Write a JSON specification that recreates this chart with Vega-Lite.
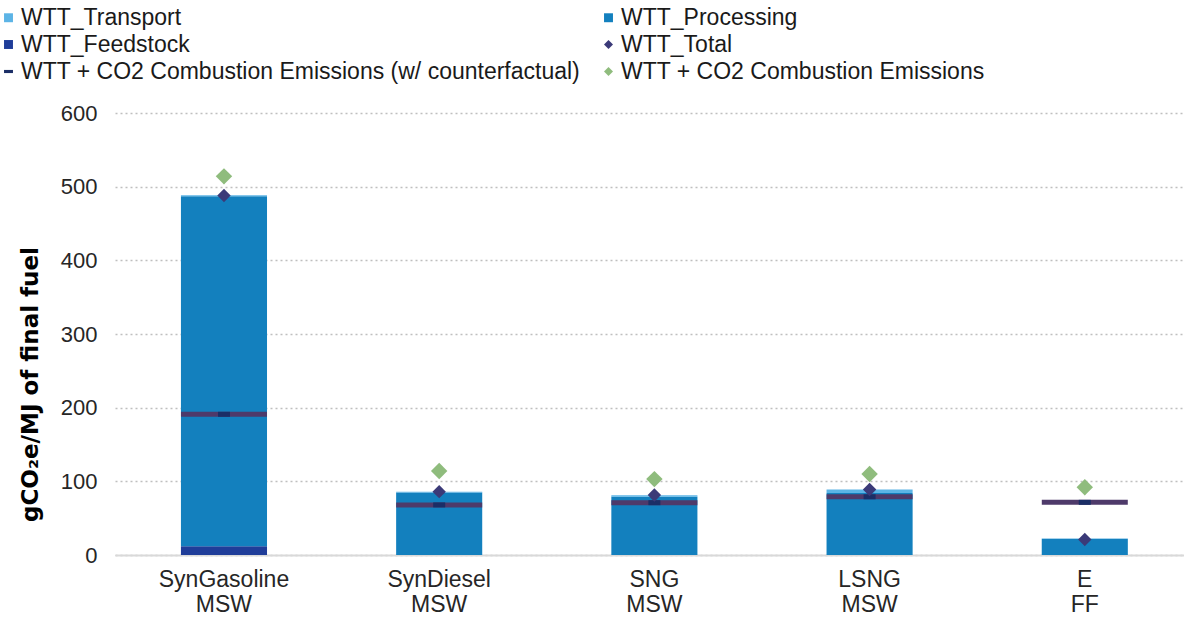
{
  "$schema": "https://vega.github.io/schema/vega-lite/v6.json",
  "width": 1069,
  "height": 442,
  "autosize": "none",
  "padding": {"left": 115, "top": 113, "right": 0, "bottom": 66},
  "background": "white",
  "config": {
    "view": {"stroke": null},
    "font": "Liberation Sans",
    "axis": {"labelFont": "Liberation Sans", "titleFont": "Liberation Sans"},
    "legend": {"labelFont": "Liberation Sans"}
  },
  "data": {
    "values": [
      {"cat": "SynGasoline|MSW", "series": "WTT_Feedstock", "value": 12, "kind": "bar", "ord": 1},
      {"cat": "SynGasoline|MSW", "series": "WTT_Processing", "value": 475, "kind": "bar", "ord": 2},
      {"cat": "SynGasoline|MSW", "series": "WTT_Transport", "value": 1.5, "kind": "bar", "ord": 3},
      {"cat": "SynGasoline|MSW", "series": "WTT_Total", "value": 488, "kind": "pt", "ord": 0},
      {"cat": "SynGasoline|MSW", "series": "WTT + CO2 Combustion Emissions", "value": 514, "kind": "pt", "ord": 0},
      {"cat": "SynGasoline|MSW", "series": "WTT + CO2 Combustion Emissions (w/ counterfactual)", "value": 191, "kind": "cf", "ord": 0},
      {"cat": "SynDiesel|MSW", "series": "WTT_Feedstock", "value": 0, "kind": "bar", "ord": 1},
      {"cat": "SynDiesel|MSW", "series": "WTT_Processing", "value": 85, "kind": "bar", "ord": 2},
      {"cat": "SynDiesel|MSW", "series": "WTT_Transport", "value": 1, "kind": "bar", "ord": 3},
      {"cat": "SynDiesel|MSW", "series": "WTT_Total", "value": 86, "kind": "pt", "ord": 0},
      {"cat": "SynDiesel|MSW", "series": "WTT + CO2 Combustion Emissions", "value": 114, "kind": "pt", "ord": 0},
      {"cat": "SynDiesel|MSW", "series": "WTT + CO2 Combustion Emissions (w/ counterfactual)", "value": 68, "kind": "cf", "ord": 0},
      {"cat": "SNG|MSW", "series": "WTT_Feedstock", "value": 0, "kind": "bar", "ord": 1},
      {"cat": "SNG|MSW", "series": "WTT_Processing", "value": 79, "kind": "bar", "ord": 2},
      {"cat": "SNG|MSW", "series": "WTT_Transport", "value": 2, "kind": "bar", "ord": 3},
      {"cat": "SNG|MSW", "series": "WTT_Total", "value": 81.5, "kind": "pt", "ord": 0},
      {"cat": "SNG|MSW", "series": "WTT + CO2 Combustion Emissions", "value": 103, "kind": "pt", "ord": 0},
      {"cat": "SNG|MSW", "series": "WTT + CO2 Combustion Emissions (w/ counterfactual)", "value": 71, "kind": "cf", "ord": 0},
      {"cat": "LSNG|MSW", "series": "WTT_Feedstock", "value": 0, "kind": "bar", "ord": 1},
      {"cat": "LSNG|MSW", "series": "WTT_Processing", "value": 84, "kind": "bar", "ord": 2},
      {"cat": "LSNG|MSW", "series": "WTT_Transport", "value": 5, "kind": "bar", "ord": 3},
      {"cat": "LSNG|MSW", "series": "WTT_Total", "value": 89, "kind": "pt", "ord": 0},
      {"cat": "LSNG|MSW", "series": "WTT + CO2 Combustion Emissions", "value": 110, "kind": "pt", "ord": 0},
      {"cat": "LSNG|MSW", "series": "WTT + CO2 Combustion Emissions (w/ counterfactual)", "value": 79, "kind": "cf", "ord": 0},
      {"cat": "E|FF", "series": "WTT_Feedstock", "value": 0, "kind": "bar", "ord": 1},
      {"cat": "E|FF", "series": "WTT_Processing", "value": 22, "kind": "bar", "ord": 2},
      {"cat": "E|FF", "series": "WTT_Transport", "value": 0.3, "kind": "bar", "ord": 3},
      {"cat": "E|FF", "series": "WTT_Total", "value": 21, "kind": "pt", "ord": 0},
      {"cat": "E|FF", "series": "WTT + CO2 Combustion Emissions", "value": 92, "kind": "pt", "ord": 0},
      {"cat": "E|FF", "series": "WTT + CO2 Combustion Emissions (w/ counterfactual)", "value": 71.5, "kind": "cf", "ord": 0}
    ]
  },
  "encoding": {
    "x": {
      "field": "cat",
      "type": "nominal",
      "sort": ["SynGasoline|MSW", "SynDiesel|MSW", "SNG|MSW", "LSNG|MSW", "E|FF"],
      "scale": {"paddingInner": 0.6, "paddingOuter": 0.2837, "align": 0.54},
      "axis": {
        "title": null,
        "labelAngle": 0,
        "labelExpr": "split(datum.label, '|')",
        "labelFontSize": 23,
        "labelColor": "#262626",
        "labelPadding": 13,
        "labelLineHeight": 25,
        "ticks": false,
        "domainColor": "#d9d9d9",
        "domainWidth": 2,
        "grid": false
      }
    }
  },
  "layer": [
    {
      "transform": [{"filter": "datum.kind == 'bar'"}],
      "mark": {"type": "bar"},
      "encoding": {
        "y": {
          "field": "value",
          "type": "quantitative",
          "stack": "zero",
          "scale": {"domain": [0, 600], "nice": false},
          "axis": {
            "values": [0, 100, 200, 300, 400, 500, 600],
            "title": "gCO₂e/MJ of final fuel",
            "titleFont": "DejaVu Sans",
            "titleFontSize": 23,
            "titleFontWeight": "bold",
            "titleColor": "#000000",
            "titlePadding": 18,
            "titleY": 271,
            "labelFontSize": 22,
            "labelColor": "#262626",
            "labelPadding": 18,
            "ticks": false,
            "domain": false,
            "grid": true,
            "gridColor": "#bfbfbf",
            "gridDash": [2, 3],
            "gridWidth": 1.5
          }
        },
        "order": {"field": "ord", "type": "quantitative"},
        "color": {
          "field": "series",
          "type": "nominal",
          "scale": {
            "domain": ["WTT_Transport", "WTT_Processing", "WTT_Feedstock", "WTT_Total", "WTT + CO2 Combustion Emissions (w/ counterfactual)", "WTT + CO2 Combustion Emissions"],
            "range": ["#5cb4e6", "#1380be", "#1f3d99", "#3b3a78", "#1b2e66", "#8fbc7d"]
          },
          "legend": {
            "title": null,
            "orient": "none",
            "legendX": -118,
            "legendY": -107,
            "direction": "horizontal",
            "columns": 2,
            "columnPadding": 16,
            "rowPadding": 3,
            "labelFontSize": 23,
            "labelColor": "#1a1a1a",
            "labelOffset": 1,
            "symbolSize": 80,
            "symbolOpacity": 1,
            "symbolStrokeWidth": 0,
            "labelLimit": 700
          }
        }
      }
    },
    {
      "transform": [{"filter": "datum.kind == 'cf'"}],
      "mark": {"type": "tick", "color": "#4e3a6a", "opacity": 1, "thickness": 5, "size": 86},
      "encoding": {
        "y": {"field": "value", "type": "quantitative"}
      }
    },
    {
      "transform": [{"filter": "datum.kind == 'cf'"}],
      "mark": {"type": "tick", "opacity": 1, "thickness": 5, "size": 12},
      "encoding": {
        "y": {"field": "value", "type": "quantitative"},
        "color": {"field": "series", "type": "nominal"}
      }
    },
    {
      "transform": [{"filter": "datum.kind == 'pt' && datum.series == 'WTT_Total'"}],
      "mark": {"type": "point", "filled": true, "opacity": 1, "size": 180},
      "encoding": {
        "y": {"field": "value", "type": "quantitative"},
        "color": {"field": "series", "type": "nominal"},
        "shape": {
          "field": "series",
          "type": "nominal",
          "scale": {
            "domain": ["WTT_Transport", "WTT_Processing", "WTT_Feedstock", "WTT_Total", "WTT + CO2 Combustion Emissions (w/ counterfactual)", "WTT + CO2 Combustion Emissions"],
            "range": ["square", "square", "square", "diamond", "M-1,-0.35H1V0.35H-1Z", "diamond"]
          },
          "legend": {
            "title": null,
            "orient": "none",
            "legendX": -118,
            "legendY": -107,
            "direction": "horizontal",
            "columns": 2,
            "columnPadding": 16,
            "rowPadding": 3,
            "labelFontSize": 23,
            "labelColor": "#1a1a1a",
            "labelOffset": 1,
            "symbolSize": 80,
            "symbolOpacity": 1,
            "symbolStrokeWidth": 0,
            "labelLimit": 700
          }
        }
      }
    },
    {
      "transform": [{"filter": "datum.kind == 'pt' && datum.series != 'WTT_Total'"}],
      "mark": {"type": "point", "filled": true, "opacity": 1, "size": 270},
      "encoding": {
        "y": {"field": "value", "type": "quantitative"},
        "color": {"field": "series", "type": "nominal"},
        "shape": {"field": "series", "type": "nominal"}
      }
    }
  ]
}
